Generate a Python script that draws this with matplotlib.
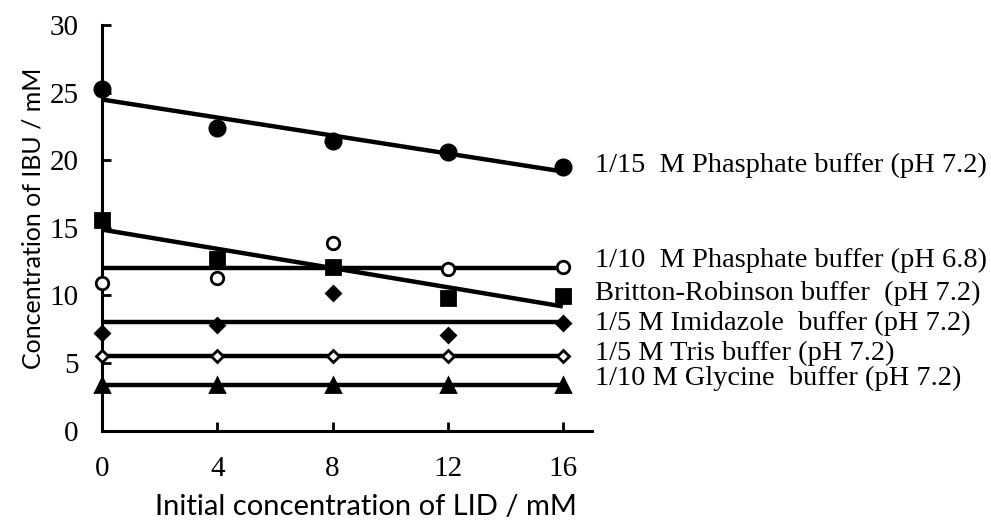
import numpy as np
import matplotlib
matplotlib.use("Agg")
import matplotlib.pyplot as plt


lid = [0, 4, 8, 12, 16]

buffers = [
    "1/15  M Phasphate buffer (pH 7.2)",
    "1/10  M Phasphate buffer (pH 6.8)",
    "Britton-Robinson buffer  (pH 7.2)",
    "1/5 M Imidazole  buffer (pH 7.2)",
    "1/5 M Tris buffer (pH 7.2)",
    "1/10 M Glycine  buffer (pH 7.2)",
]

phos_15 = [25.25, 22.4, 21.4, 20.6, 19.5]
phos_10 = [10.95, 11.3, 13.9, 11.95, 12.1]
britton = [15.6, 12.7, 12.1, 9.8, 9.95]
imidazole = [7.25, 7.85, 10.2, 7.1, 7.95]
tris = [5.5, 5.5, 5.55, 5.5, 5.5]
glycine = [3.4, 3.4, 3.4, 3.4, 3.4]

# 1 = linear fit, 0 = flat (mean) line
fit_deg = [1, 0, 1, 0, 0, 0]

series = [phos_15, phos_10, britton, imidazole, tris, glycine]

# marker styles: (marker, size, facecolor)
styles = [
    ("o", 11, "black"),
    ("o", 9, "white"),
    ("s", 10, "black"),
    ("D", 7.5, "black"),
    ("D", 6.5, "white"),
    ("^", 10, "black"),
]

# y position of the text labels on the right (in data units)
label_pos = [19.6, 12.6, 10.15, 7.9, 5.7, 3.9]

serif = "Liberation Serif"
sans = "Lato"

fig = plt.figure(figsize=(9.91, 5.22), dpi=100)
ax = fig.add_axes([0.1032, 0.1749, 0.597 - 0.1032, 0.952 - 0.1749])

x = np.array(lid, dtype=float)
xx = np.array([lid[0], lid[-1]], dtype=float)

for vals, deg, (mk, ms, fc), name, ly in zip(series, fit_deg, styles, buffers, label_pos):
    coef = np.polyfit(x, vals, deg)
    ax.plot(xx, np.polyval(coef, xx), color="black", lw=3.2, zorder=2,
            clip_on=False, solid_capstyle="butt")
    ax.plot(x, vals, linestyle="none", marker=mk, markersize=ms,
            markerfacecolor=fc, markeredgecolor="black", markeredgewidth=2,
            zorder=3, clip_on=False)
    ax.text(17.1, ly, name, fontsize=20.4, family=serif, va="center",
            ha="left", clip_on=False)

ax.set_xlim(0, 17)
ax.set_ylim(0, 30)
ax.set_xticks([0, 4, 8, 12, 16])
ax.set_yticks([0, 5, 10, 15, 20, 25, 30])

for side in ["top", "right"]:
    ax.spines[side].set_visible(False)
for side in ["left", "bottom"]:
    ax.spines[side].set_linewidth(2.2)

ax.tick_params(direction="in", length=6.5, width=2, labelsize=21)
ax.tick_params(axis="x", pad=18)
ax.tick_params(axis="y", pad=17)
for lbl in ax.get_xticklabels() + ax.get_yticklabels():
    lbl.set_family(serif)

ax.set_xlabel("Initial concentration of LID / mM", fontsize=21, family=sans)
ax.set_ylabel("Concentration of IBU / mM", fontsize=18, family=sans)
ax.xaxis.set_label_coords(0.539, -0.188)
ax.yaxis.set_label_coords(-0.1416, 0.524)
ax.xaxis.label.set_va("center")
ax.yaxis.label.set_va("center")

fig.savefig("out.png", dpi=100)
